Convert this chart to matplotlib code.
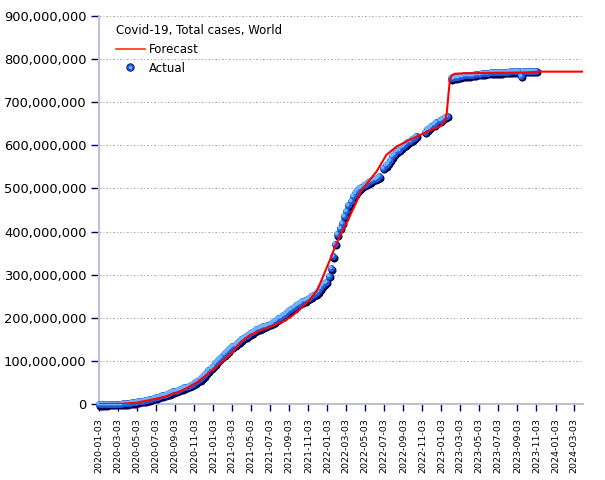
import numpy as np
import pandas as pd
import matplotlib
matplotlib.use("Agg")
import matplotlib.pyplot as plt
import matplotlib.transforms as mtransforms
from matplotlib.lines import Line2D
from matplotlib.legend_handler import HandlerTuple
from matplotlib.ticker import FuncFormatter

nan = np.nan

# Actual total cases (millions), one value per week starting 2020-01-03
actual_2020 = [0, 0, 0, 0, 0.1,
               0.1, 0.1, 0.2, 0.3,
               0.5, 0.8, 1.2, 1.7,
               2.3, 2.9, 3.6, 4.4,
               5.2, 6.1, 7.0, 8.0, 9.1,
               10.2, 11.4, 12.7, 14.0,
               15.5, 17.0, 18.6, 20.2, 21.8,
               23.5, 25.3, 27.2, 29.1,
               31.0, 33.0, 35.0, 37.0,
               38.5, 40.0, 42.0, 44.5, 47.0,
               50.0, 53.5, 57.5, 62.0,
               67.0, 72.5, 78.0, 84.0]
actual_2021 = [89, 95, 100, 105, 110,
               115, 120, 125, 130,
               134, 138, 142, 146,
               150, 154, 157.5, 161, 164,
               167, 170, 173, 175.5,
               178, 180, 182, 184,
               186, 188.5, 191.5, 195, 198.5,
               202, 205.5, 209, 213,
               217, 221, 225, 228.5,
               232, 235, 238, 241, 244,
               247, 250, 253.5, 257,
               262, 268, 275, 280, 284]
actual_2022 = [297, 315, 343, 372,
               394, 409, 421, 436,
               448, 461, 472, 482,
               489, 496, 500, 504, 508,
               511, 514, 517, 520,
               522, 525, 528, nan,
               548, 554, 560, 567, 575,
               581, 586, 590, 595,
               599, 603, 607, 611, 614,
               618, 622, nan, nan,
               nan, 632, 637, 641,
               645, 649, 653, nan, 658]
actual_2023 = [662, 666, 669, nan,
               756, 757, 758, 759,
               760, 761, 762, 762, 763,
               764, 764, 765, 766,
               766, 767, 767, 768,
               768, 769, 769, 769, 770,
               770, 770, 771, 771,
               771, 772, 772, 772,
               772, 772, 761, 773, 773,
               773, 773, 773, 773,
               773]

# Forecast (millions)
forecast_dates = ["2020-01-03", "2020-03-15", "2020-05-01", "2020-06-13", "2020-08-01",
                  "2020-09-28", "2020-11-15", "2021-01-13", "2021-03-07", "2021-03-28",
                  "2021-04-30", "2021-06-22", "2021-08-14", "2021-09-15", "2021-10-28",
                  "2021-11-29", "2021-12-11", "2022-01-11", "2022-02-01", "2022-03-05",
                  "2022-04-06", "2022-04-22", "2022-05-19", "2022-06-09", "2022-07-11",
                  "2022-08-12", "2022-09-24", "2022-11-19", "2022-12-27", "2023-01-08",
                  "2023-01-15", "2023-01-20", "2023-01-25", "2023-01-30", "2023-02-04",
                  "2023-02-15", "2023-03-15", "2023-06-01", "2023-10-01", "2023-11-15",
                  "2024-03-31"]
forecast_vals = [0, 0.5, 3, 9, 17,
                 32, 52, 86, 121, 141,
                 160, 176, 191, 206, 234,
                 261, 280, 334, 373, 419,
                 469, 496, 520, 539, 578,
                 597, 613, 632, 643, 650,
                 658, 675, 715, 752, 762,
                 766, 767, 768, 769, 771,
                 771]

tick_dates = pd.date_range("2020-01-01", "2024-03-01", freq="2MS") + pd.Timedelta(days=2)

actual = np.array(actual_2020 + actual_2021 + actual_2022 + actual_2023) * 1e6
actual_dates = pd.date_range("2020-01-03", periods=len(actual), freq="7D")
fc_dates = pd.to_datetime(forecast_dates)
fc = np.array(forecast_vals) * 1e6

fig = plt.figure(figsize=(6.05, 4.8), dpi=100)
ax = fig.add_axes([99 / 605, 76 / 480, 484 / 605, 388 / 480])

def shift(dx, dy):
    return ax.transData + mtransforms.ScaledTranslation(dx / 100, dy / 100, fig.dpi_scale_trans)

# sphere-like markers: shadow, body, highlight
ax.plot(actual_dates, actual, "o", ms=5.8, color="#000050", mec="none",
        transform=shift(1, -1.5), clip_on=False, zorder=3)
ax.plot(actual_dates, actual, "o", ms=5.0, color="#1d5ad8", mec="none",
        clip_on=False, zorder=4)
ax.plot(actual_dates, actual, "o", ms=2.8, color="#6fb4ff", mec="none",
        transform=shift(-1, 1), clip_on=False, zorder=5)
ax.plot(fc_dates, fc, color="#ff0000", lw=1.5, zorder=6)

ax.set_xlim(pd.Timestamp("2020-01-03"), pd.Timestamp("2024-03-31"))
ax.set_ylim(0, 900e6)
ax.set_yticks(np.arange(0, 900e6 + 1, 100e6))
ax.yaxis.set_major_formatter(FuncFormatter(lambda v, p: f"{v:,.0f}"))
ax.set_xticks(tick_dates)
ax.set_xticklabels([d.strftime("%Y-%m-%d") for d in tick_dates], rotation=90, fontsize=6.8)
ax.tick_params(axis="y", labelsize=9.4, length=6, width=1, color="#000066", pad=3)
ax.tick_params(axis="x", length=5, width=1, color="#000066", pad=5)

ax.grid(axis="y", color="#aaaaaa", lw=0.7, linestyle=(0, (2, 2, 1, 2)))
ax.set_axisbelow(True)
for s in ["top", "right"]:
    ax.spines[s].set_visible(False)
for s in ["left", "bottom"]:
    ax.spines[s].set_color("#bcc2d6")
    ax.spines[s].set_linewidth(1.5)

h_fc = Line2D([], [], color="#ff3300", lw=1.2)
h_act = (Line2D([], [], marker="o", ls="none", ms=6, color="#000050", mec="none"),
         Line2D([], [], marker="o", ls="none", ms=5, color="#1d5ad8", mec="none"),
         Line2D([], [], marker="o", ls="none", ms=2.4, color="#6fb4ff", mec="none"))
ax.legend([h_fc, h_act], ["Forecast", "Actual"], title="Covid-19, Total cases, World",
          loc="upper left", bbox_to_anchor=(0.035, 0.98), frameon=False,
          fontsize=8.5, title_fontsize=8.5, alignment="left",
          borderaxespad=0, borderpad=0, handlelength=2.45, handletextpad=0.35,
          labelspacing=0.5, numpoints=1,
          handler_map={tuple: HandlerTuple(ndivide=1)})

fig.savefig("out.png", dpi=100)
